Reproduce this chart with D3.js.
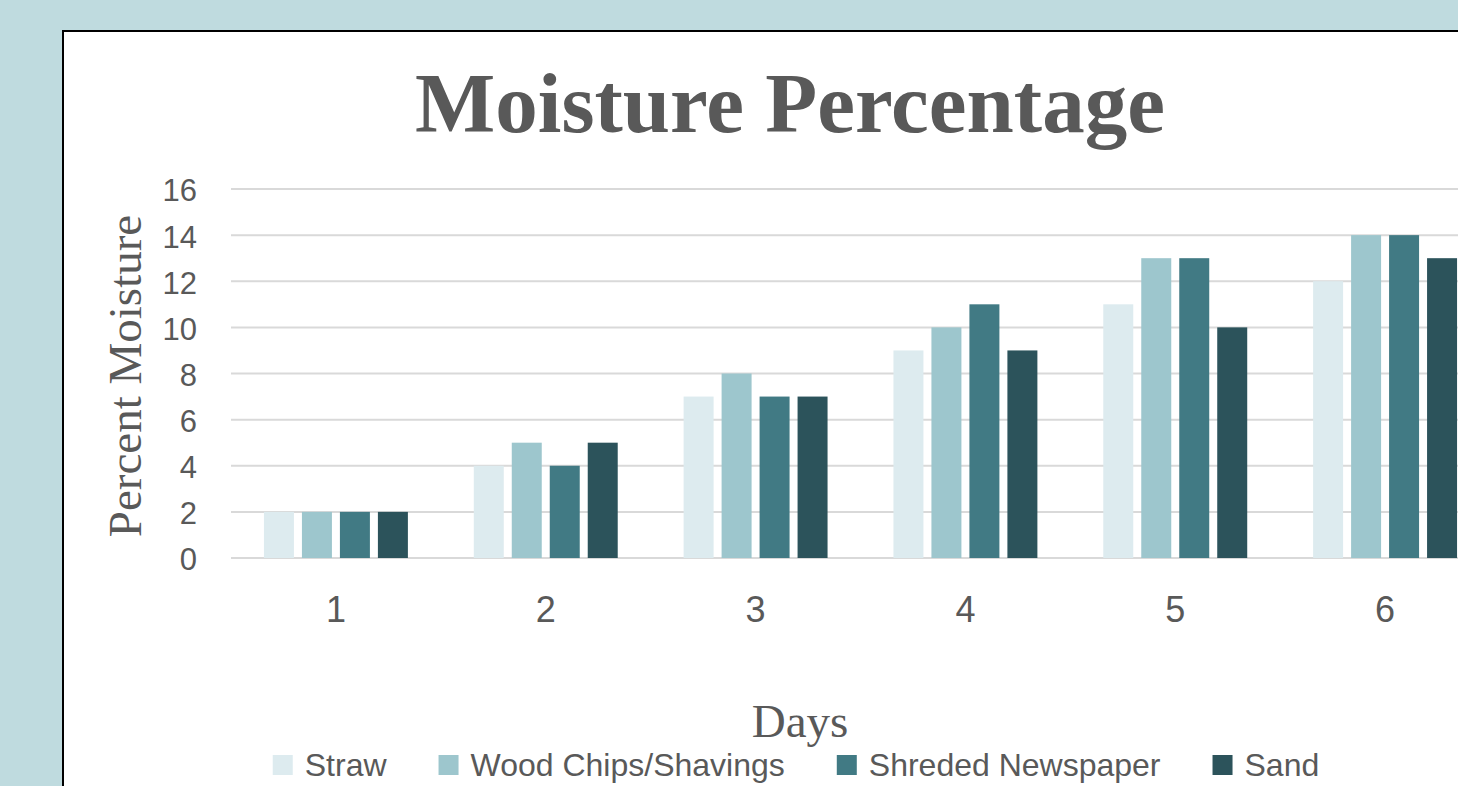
<!DOCTYPE html>
<html>
<head>
<meta charset="utf-8">
<script src="https://cdn.jsdelivr.net/npm/d3@7"></script>
<style>
  html, body { margin: 0; padding: 0; background: #bfdbdf; overflow: hidden; }
  svg { display: block; }
</style>
</head>
<body>
<svg id="chart" width="1458" height="786"></svg>
<script>
// Moisture readings per bedding material, by day
const days = ["1", "2", "3", "4", "5", "6"];
const seriesNames = ["Straw", "Wood Chips/Shavings", "Shreded Newspaper", "Sand"];
const straw = [2, 4, 7, 9, 11, 12];
const woodChips = [2, 5, 8, 10, 13, 14];
const newspaper = [2, 4, 7, 11, 13, 14];
const sand = [2, 5, 7, 9, 10, 13];
const yTicks = [0, 2, 4, 6, 8, 10, 12, 14, 16];
const colors = ["#ddebef", "#9dc6cd", "#417a84", "#2c535b"];

const seriesValues = [straw, woodChips, newspaper, sand];
const rows = days.map((d, i) => ({
  day: d,
  values: seriesNames.map((name, s) => ({ name, value: seriesValues[s][i] }))
}));

const W = 1458, H = 786;
const svg = d3.select("#chart");
const textColor = "#595959";
const sansFont = "'Liberation Sans', Arial, sans-serif";
const serifFont = "'Liberation Serif', 'Times New Roman', serif";

// Chart panel: white card with black border running off the right/bottom edge
svg.append("rect")
  .attr("x", 63).attr("y", 31)
  .attr("width", W).attr("height", H)
  .attr("fill", "#ffffff")
  .attr("stroke", "#000000")
  .attr("stroke-width", 2);

const plot = { left: 231, right: 1490, top: 189, bottom: 558 };

const x0 = d3.scaleBand()
  .domain(days)
  .range([plot.left, plot.right])
  .paddingInner(0.314)
  .paddingOuter(0.157);

const x1 = d3.scaleBand()
  .domain(seriesNames)
  .range([0, x0.bandwidth()])
  .paddingInner(8 / 38)
  .paddingOuter(0);

const y = d3.scaleLinear()
  .domain([0, 16])
  .range([plot.bottom, plot.top]);

const color = d3.scaleOrdinal().domain(seriesNames).range(colors);

// Horizontal gridlines
svg.append("g")
  .selectAll("line")
  .data(yTicks)
  .join("line")
  .attr("x1", plot.left)
  .attr("x2", W)
  .attr("y1", d => y(d))
  .attr("y2", d => y(d))
  .attr("stroke", "#d9d9d9")
  .attr("stroke-width", 2);

// Bars
svg.append("g")
  .selectAll("g")
  .data(rows)
  .join("g")
  .attr("transform", d => `translate(${x0(d.day)},0)`)
  .selectAll("rect")
  .data(d => d.values)
  .join("rect")
  .attr("x", d => x1(d.name))
  .attr("width", x1.bandwidth())
  .attr("y", d => y(d.value))
  .attr("height", d => y(0) - y(d.value))
  .attr("fill", d => color(d.name));

// Y axis labels
const yAxis = d3.axisLeft(y).tickValues(yTicks).tickSize(0).tickPadding(0);
const gy = svg.append("g")
  .attr("transform", `translate(${plot.left - 34},2)`)
  .call(yAxis);
gy.select(".domain").remove();
gy.selectAll("text")
  .attr("fill", textColor)
  .attr("font-family", sansFont)
  .attr("font-size", 31);

// X axis labels
const xAxis = d3.axisBottom(x0).tickSize(0).tickPadding(0);
const gx = svg.append("g")
  .attr("transform", `translate(0,${plot.bottom + 38})`)
  .call(xAxis);
gx.select(".domain").remove();
gx.selectAll("text")
  .attr("fill", textColor)
  .attr("font-family", sansFont)
  .attr("font-size", 36);

// Title
svg.append("text")
  .attr("x", 790)
  .attr("y", 132)
  .attr("text-anchor", "middle")
  .attr("fill", textColor)
  .attr("font-family", serifFont)
  .attr("font-weight", "bold")
  .attr("font-size", 85)
  .text("Moisture Percentage");

// Axis titles
svg.append("text")
  .attr("transform", "translate(141,376) rotate(-90)")
  .attr("text-anchor", "middle")
  .attr("fill", textColor)
  .attr("font-family", serifFont)
  .attr("font-size", 47)
  .text("Percent Moisture");

svg.append("text")
  .attr("x", 800)
  .attr("y", 737)
  .attr("text-anchor", "middle")
  .attr("fill", textColor)
  .attr("font-family", serifFont)
  .attr("font-size", 47)
  .text("Days");

// Legend, laid out from measured label widths and centred under the plot
const swatch = 20, swatchGap = 12, itemGap = 52;
const legend = svg.append("g");
const items = legend.selectAll("g")
  .data(seriesNames)
  .join("g");
items.append("rect")
  .attr("width", swatch)
  .attr("height", swatch)
  .attr("y", -swatch / 2)
  .attr("fill", d => color(d));
items.append("text")
  .attr("x", swatch + swatchGap)
  .attr("dy", "0.35em")
  .attr("fill", textColor)
  .attr("font-family", sansFont)
  .attr("font-size", 32)
  .text(d => d);

const widths = [];
items.each(function () {
  widths.push(swatch + swatchGap + d3.select(this).select("text").node().getComputedTextLength());
});
const total = d3.sum(widths) + itemGap * (widths.length - 1);
let cursor = 796 - total / 2;
items.attr("transform", (d, i) => {
  const t = `translate(${cursor},765)`;
  cursor += widths[i] + itemGap;
  return t;
});
</script>
</body>
</html>
